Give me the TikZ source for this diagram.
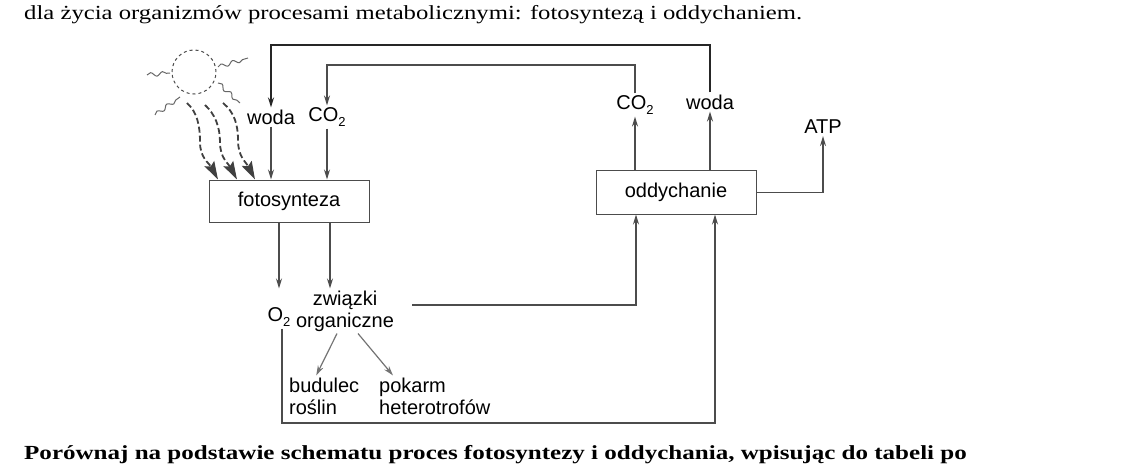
\documentclass[tikz,border=0pt]{standalone}
\usepackage{graphicx}
\usepackage{fontspec}
\setmainfont{Liberation Serif}
\newfontfamily\diafont{Liberation Sans}
\usetikzlibrary{shapes, arrows.meta, positioning, decorations.pathmorphing}
\colorlet{lin}{black!70}
\newcommand{\subdwa}{\raisebox{-0.45ex}{\fontsize{13}{13}\selectfont 2}}
\tikzset{
  arr/.style={->, draw=lin, line width=1.2pt},
  thickarr/.style={->, draw=black!85, line width=2.2pt},
  wave/.style={-{Stealth[length=18pt,width=11pt,inset=3pt]}, draw=black!75, fill=none, dash pattern=on 6pt off 3pt, line width=1.8pt},
  ray/.style={draw=black!60, line width=1pt, decorate, decoration={snake, amplitude=2pt, segment length=12pt}},
  lbl/.style={inner sep=2pt},
}

\begin{document}
\begin{tikzpicture}[x=1pt, y=-1pt, >={Stealth[length=10pt,width=6pt]}, font=\diafont\fontsize{20}{22}\selectfont]
    \useasboundingbox (0,0) rectangle (1146,468);
    \node [anchor=base west, inner sep=0, font=\rmfamily\fontsize{20}{24}\selectfont] (intro) at (24,20) {\scalebox{1.235}[1]{dla życia organizmów procesami metabolicznymi: fotosyntezą i oddychaniem.}};
    \node [anchor=base west, inner sep=0, font=\rmfamily\bfseries\fontsize{20}{24}\selectfont] (task) at (24,459) {\scalebox{1.252}[1]{Porównaj na podstawie schematu proces fotosyntezy i oddychania, wpisując do tabeli po}};

    \node [draw=lin, dashed, circle, minimum size=44pt, inner sep=0, line width=1pt] (sun) at (194,72) {};
    \node [draw=lin, rectangle, minimum width=160pt, minimum height=42pt, line width=1pt] (foto) at (289,201) {fotosynteza};
    \node [draw=lin, rectangle, minimum width=160pt, minimum height=43pt, line width=1pt] (odd) at (676,192.5) {oddychanie};
    \node [lbl] (wodaL) at (271,117) {woda};
    \node [lbl] (co2L) at (327,117) {CO\subdwa};
    \node [lbl] (wodaR) at (710,102) {woda};
    \node [lbl] (co2R) at (635,105) {CO\subdwa};
    \node [lbl] (atp) at (823,127) {ATP};
    \node [lbl] (o2) at (279,317) {O\subdwa};
    \node [lbl, align=center] (zw) at (345,311) {związki\\organiczne};
    \node [lbl, align=left, anchor=west] (bud) at (287,396) {budulec\\roślin};
    \node [lbl, align=left, anchor=west] (pok) at (377,396) {pokarm\\heterotrofów};
    \coordinate (topw) at (0,45);
    \coordinate (topc) at (0,65);
    \coordinate (bot) at (0,423);

    % promienie slonca
    \draw [ray] ([shift={(-47pt,-3pt)}]sun.center) -- ([shift={(-24pt,-1pt)}]sun.center);
    \draw [ray] ([shift={(24pt,5pt)}]sun.center) -- ([shift={(54pt,14pt)}]sun.center);
    \draw [ray] ([shift={(-39pt,-43pt)}]sun.center) -- ([shift={(-14pt,-25pt)}]sun.center);
    \draw [ray] ([shift={(24pt,-11pt)}]sun.center) -- ([shift={(46pt,-31pt)}]sun.center);
    \draw [wave] ([shift={(-7pt,-31pt)}]sun.center) .. controls (197,112) and (200,125) .. (200,142) .. controls (200,158) and (209,163) .. ([xshift=-71pt]foto.north);
    \draw [wave] ([shift={(11pt,-33pt)}]sun.center) .. controls (215,114) and (220,127) .. (220,142) .. controls (220,158) and (228,163) .. ([xshift=-52pt]foto.north);
    \draw [wave] ([shift={(29pt,-31pt)}]sun.center) .. controls (234,112) and (238,124) .. (238,140) .. controls (238,157) and (246,162) .. ([xshift=-34pt]foto.north);

    \draw [arr] (wodaL) -- (wodaL |- foto.north);
    \draw [arr] (co2L) -- (co2L |- foto.north);
    \draw [thickarr] (wodaR) -- (wodaR |- topw) -| (wodaL);
    \draw [arr] (co2R) -- (co2R |- topc) -| (co2L);
    \draw [arr] (odd.north -| co2R) -- (co2R);
    \draw [arr] (odd.north -| wodaR) -- (wodaR);
    \draw [arr] (odd.east) -| (atp);
    \draw [arr] (foto.south -| o2) -- (o2 |- zw.north);
    \draw [arr] ([xshift=41pt]foto.south) -- ([xshift=41pt]foto.south |- zw.north);
    \draw [arr] ([shift={(16pt,6pt)}]zw.east) -| ([xshift=-40pt]odd.south);
    \draw [arr] ([xshift=3pt]o2.south) -- ([xshift=3pt]o2.south |- bot) -| ([xshift=39pt]odd.south);
    \draw [arr, draw=black!55] ([xshift=-8pt]zw.south) -- ([xshift=-8pt]bud.north);
    \draw [arr, draw=black!55] ([xshift=13pt]zw.south) -- ([xshift=16pt]pok.north west);
\end{tikzpicture}
\end{document}
